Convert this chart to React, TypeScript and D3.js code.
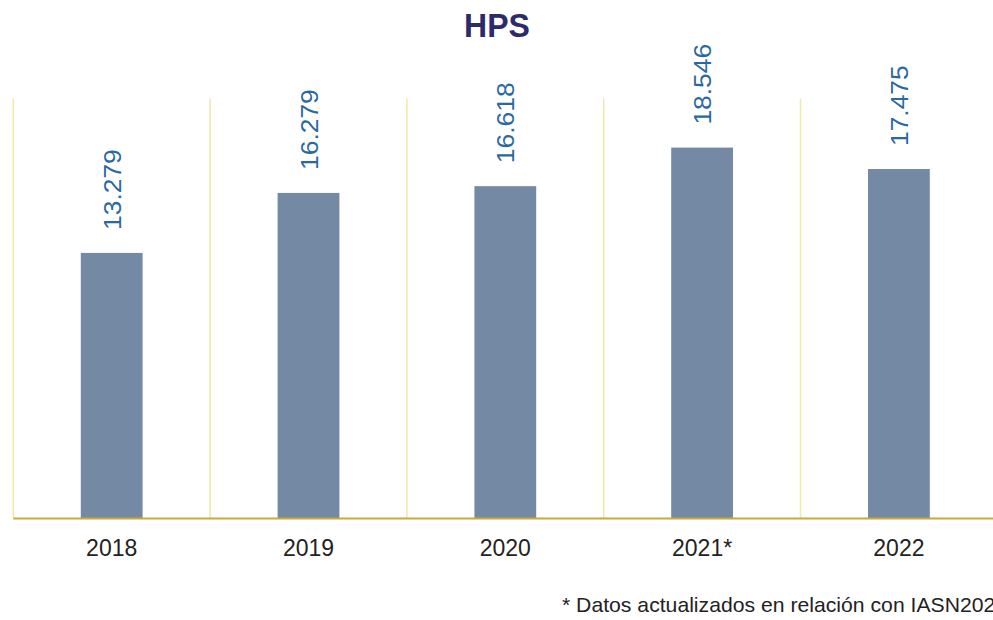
import React from "react";
import * as d3 from "d3";

const categories = ["2018", "2019", "2020", "2021*", "2022"];
const values = [13.279, 16.279, 16.618, 18.546, 17.475];
const valueLabels = ["13.279", "16.279", "16.618", "18.546", "17.475"];
const title = "HPS";
const footnote = "* Datos actualizados en relación con IASN2022";

const W = 993;
const H = 620;
const left = 13.3;
const step = 196.8;
const top = 98.5;
const bottom = 518.5;

export default function App() {
  const xGrid = d3
    .scaleBand<string>()
    .domain(categories)
    .range([left, left + step * categories.length])
    .padding(0);
  const xBar = d3
    .scaleBand<string>()
    .domain(categories)
    .range([left, left + step * categories.length])
    .paddingInner(0.686)
    .paddingOuter(0.343);
  const y = d3.scaleLinear().domain([0, 21]).range([bottom, top]);
  const font = "'Liberation Sans', Arial, Helvetica, sans-serif";

  return (
    <svg
      width={W}
      height={H}
      style={{ position: "absolute", left: 0, top: 0, background: "#fff" }}
      fontFamily={font}
    >
      <text
        x={497}
        y={37}
        textAnchor="middle"
        fontSize={32}
        fontWeight={700}
        fill="#2c2a6b"
        transform="translate(0,37) scale(1,1.05) translate(0,-37)"
      >
        {title}
      </text>
      {categories.map((c) => (
        <line
          key={"g" + c}
          x1={xGrid(c)!}
          x2={xGrid(c)!}
          y1={top}
          y2={bottom}
          stroke="#ede9a6"
          strokeWidth={1.5}
        />
      ))}
      {categories.map((c, i) => (
        <rect
          key={"b" + c}
          x={xBar(c)!}
          y={y(values[i])}
          width={xBar.bandwidth()}
          height={bottom - y(values[i])}
          fill="#7489a3"
        />
      ))}
      <line x1={left} x2={W} y1={bottom} y2={bottom} stroke="#c9a93a" strokeWidth={2} />
      {categories.map((c, i) => {
        const cx = xBar(c)! + xBar.bandwidth() / 2 + 9;
        const cy = y(values[i]) - 23;
        return (
          <text
            key={"v" + c}
            transform={`translate(${cx},${cy}) rotate(-90) scale(1.1,1)`}
            fontSize={24}
            fill="#2a68a3"
          >
            {valueLabels[i]}
          </text>
        );
      })}
      {categories.map((c) => (
        <text
          key={"t" + c}
          x={xBar(c)! + xBar.bandwidth() / 2}
          y={556}
          textAnchor="middle"
          fontSize={23}
          fill="#222"
        >
          {c}
        </text>
      ))}
      <text
        x={562}
        y={612}
        fontSize={20}
        fill="#222"
        transform="translate(562,612) scale(1.06,1) translate(-562,-612)"
      >
        {footnote}
      </text>
    </svg>
  );
}
